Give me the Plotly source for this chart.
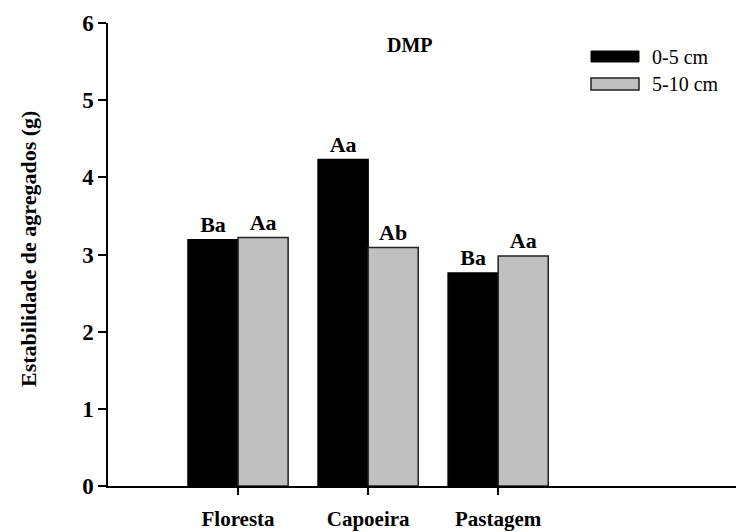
import plotly.graph_objects as go

categories = ["Floresta", "Capoeira", "Pastagem"]
cat_pos = [1, 2, 3]
vals_0_5 = [3.19, 4.23, 2.76]
vals_5_10 = [3.22, 3.09, 2.98]
labels_0_5 = ["Ba", "Aa", "Ba"]
labels_5_10 = ["Aa", "Ab", "Aa"]
series_names = ["0-5 cm", "5-10 cm"]
y_ticks = [0, 1, 2, 3, 4, 5, 6]

FONT = "Liberation Serif"

fig = go.Figure()
fig.add_trace(go.Bar(
    x=cat_pos, y=vals_0_5, name=series_names[0],
    marker=dict(color="black", line=dict(color="black", width=1.5)),
    text=labels_0_5, textposition="outside", cliponaxis=False,
    textfont=dict(family=FONT, size=22, color="black", weight="bold"),
))
fig.add_trace(go.Bar(
    x=cat_pos, y=vals_5_10, name=series_names[1],
    marker=dict(color="#c0c0c0", line=dict(color="#222222", width=1.5)),
    text=labels_5_10, textposition="outside", cliponaxis=False,
    textfont=dict(family=FONT, size=22, color="black", weight="bold"),
))

# body has an 8px margin in the page: shift margins to compensate
fig.update_layout(
    width=744, height=532,
    margin=dict(l=100, r=8, t=15, b=54),
    paper_bgcolor="white", plot_bgcolor="white",
    barmode="group", bargap=0.23, bargroupgap=0,
    showlegend=False,
    font=dict(family=FONT, color="black"),
)
fig.update_xaxes(
    range=[0, 4.89], tickvals=cat_pos, ticktext=categories,
    showline=True, linecolor="black", linewidth=1.5,
    ticks="outside", ticklen=7, tickwidth=1.5, tickcolor="black",
    ticklabelstandoff=6,
    tickfont=dict(family=FONT, size=21, color="black", weight="bold"),
    showgrid=False, zeroline=False, automargin=False,
)
fig.update_yaxes(
    range=[0, 6], tickvals=y_ticks,
    showline=True, linecolor="black", linewidth=1.5,
    ticks="outside", ticklen=8, tickwidth=1.5, tickcolor="black",
    ticklabelstandoff=0,
    tickfont=dict(family=FONT, size=23, color="black", weight="bold"),
    showgrid=False, zeroline=False, automargin=False,
)

annotations = [
    dict(text="<b>Estabilidade de agregados (g)</b>", textangle=-90,
         xref="paper", yref="paper", x=(28 - 108) / 636, y=(486 - 249) / 463,
         showarrow=False, font=dict(family=FONT, size=22, color="black"),
         xanchor="center", yanchor="middle"),
    dict(text="<b>DMP</b>", xref="paper", yref="paper",
         x=(410 - 108) / 636, y=(486 - 45) / 463, showarrow=False,
         font=dict(family=FONT, size=20, color="black"),
         xanchor="center", yanchor="middle"),
    dict(text=series_names[0], xref="paper", yref="paper",
         x=(650 - 108) / 636, y=(486 - 57) / 463, showarrow=False,
         font=dict(family=FONT, size=20, color="black"),
         xanchor="left", yanchor="middle"),
    dict(text=series_names[1], xref="paper", yref="paper",
         x=(650 - 108) / 636, y=(486 - 84) / 463, showarrow=False,
         font=dict(family=FONT, size=20, color="black"),
         xanchor="left", yanchor="middle"),
]
fig.update_layout(annotations=annotations)

shapes = [
    dict(type="rect", xref="paper", yref="paper",
         x0=(591 - 108) / 636, x1=(639 - 108) / 636,
         y0=(486 - 62) / 463, y1=(486 - 51) / 463,
         fillcolor="black", line=dict(color="black", width=1)),
    dict(type="rect", xref="paper", yref="paper",
         x0=(591 - 108) / 636, x1=(639 - 108) / 636,
         y0=(486 - 90) / 463, y1=(486 - 78) / 463,
         fillcolor="#c0c0c0", line=dict(color="#222222", width=1.5)),
]
fig.update_layout(shapes=shapes)

fig.write_html("out.html")
